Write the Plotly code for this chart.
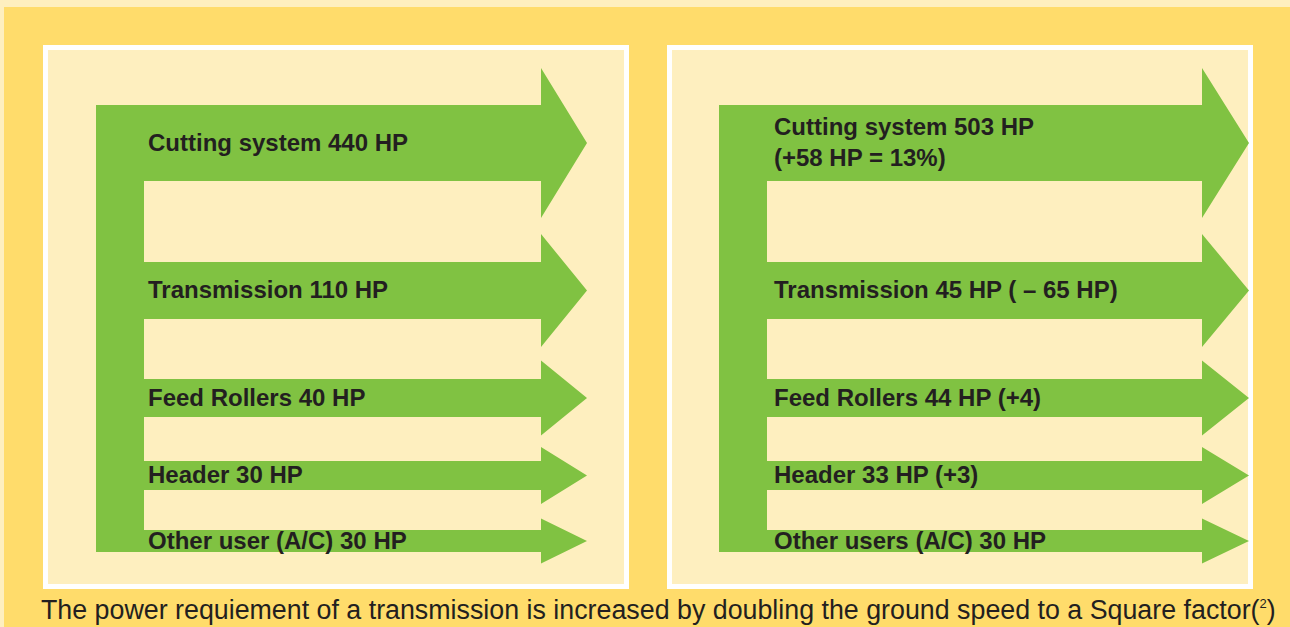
import plotly.graph_objects as go

# Data
left_names = ["Cutting system", "Transmission", "Feed Rollers", "Header", "Other user (A/C)"]
left_hp = [440, 110, 40, 30, 30]
left_notes = ["", "", "", "", ""]

right_names = ["Cutting system", "Transmission", "Feed Rollers", "Header", "Other users (A/C)"]
right_hp = [503, 45, 44, 33, 30]
right_notes = ["<br>(+58 HP = 13%)", " ( \u2013 65 HP)", " (+4)", " (+3)", ""]

caption = ("The power requiement of a transmission is increased by doubling "
           "the ground speed to a Square factor(<sup><span style='font-size:13px'>2</span></sup>)")

# Colours
YELLOW = "#FFDC6B"
CREAM = "#FEEFBF"
GREEN = "#80C242"
INK = "#231F20"

W, H = 1290, 627

# Arrow layout (pixels), shared by both panels
arrow_mid = [143, 290.5, 398, 475.5, 541]
body_h = [76, 57, 38, 29, 22]
head_h = [150, 113, 75, 57, 45]
BAR_W = 48

# panel: outer-left x, bar x, body end x, tip x, label x
panels = [
    dict(x0=43, bar=96, body_end=541, tip=587, text_x=146,
         names=left_names, hp=left_hp, notes=left_notes),
    dict(x0=667, bar=719, body_end=1202, tip=1249, text_x=772,
         names=right_names, hp=right_hp, notes=right_notes),
]
PANEL_W = 586
PANEL_TOP, PANEL_BOT = 45, 589
BORDER = 5

fig = go.Figure()
shapes = []
annotations = []

# light strips on top and left edge
shapes.append(dict(type="rect", x0=0, x1=W, y0=0, y1=7, fillcolor=CREAM, line_width=0, layer="below"))
shapes.append(dict(type="rect", x0=0, x1=4, y0=0, y1=H, fillcolor=CREAM, line_width=0, layer="below"))

for p in panels:
    shapes.append(dict(type="rect", x0=p["x0"], x1=p["x0"] + PANEL_W, y0=PANEL_TOP, y1=PANEL_BOT,
                       fillcolor="white", line_width=0, layer="below"))
    shapes.append(dict(type="rect", x0=p["x0"] + BORDER, x1=p["x0"] + PANEL_W - BORDER,
                       y0=PANEL_TOP + BORDER, y1=PANEL_BOT - BORDER,
                       fillcolor=CREAM, line_width=0, layer="below"))

    # vertical trunk
    top = arrow_mid[0] - body_h[0] / 2
    bot = arrow_mid[-1] + body_h[-1] / 2
    fig.add_trace(go.Scatter(
        x=[p["bar"], p["bar"] + BAR_W, p["bar"] + BAR_W, p["bar"], p["bar"]],
        y=[top, top, bot, bot, top],
        fill="toself", fillcolor=GREEN, mode="lines", line=dict(width=0),
        hoverinfo="skip", showlegend=False))

    for i, name in enumerate(p["names"]):
        m, bh, hh = arrow_mid[i], body_h[i] / 2, head_h[i] / 2
        xs = [p["bar"], p["body_end"], p["body_end"], p["tip"], p["body_end"], p["body_end"], p["bar"], p["bar"]]
        ys = [m - bh, m - bh, m - hh, m, m + hh, m + bh, m + bh, m - bh]
        fig.add_trace(go.Scatter(
            x=xs, y=ys, fill="toself", fillcolor=GREEN, mode="lines", line=dict(width=0),
            hoverinfo="skip", showlegend=False))
        annotations.append(dict(
            x=p["text_x"], y=m - 1, xref="x", yref="y",
            text="<b>%s %d HP%s</b>" % (name, p["hp"][i], p["notes"][i]),
            showarrow=False, xanchor="left", yanchor="middle", align="left",
            font=dict(family="Liberation Sans, Arial, sans-serif", size=24, color=INK)))

annotations.append(dict(
    x=39, y=610, xref="x", yref="y", text=caption, showarrow=False,
    xanchor="left", yanchor="middle",
    font=dict(family="Liberation Sans, Arial, sans-serif", size=26.8, color=INK)))

fig.update_layout(
    width=W, height=H, margin=dict(l=0, r=0, t=0, b=0),
    paper_bgcolor=YELLOW, plot_bgcolor=YELLOW,
    shapes=shapes, annotations=annotations,
    xaxis=dict(range=[0, W], visible=False, fixedrange=True),
    yaxis=dict(range=[H, 0], visible=False, fixedrange=True),
)

# drop the browser's default 8px body margin so the figure fills the window
fig.write_html("out.html", config={"displayModeBar": False},
               post_script="document.body.style.margin='0px';")
